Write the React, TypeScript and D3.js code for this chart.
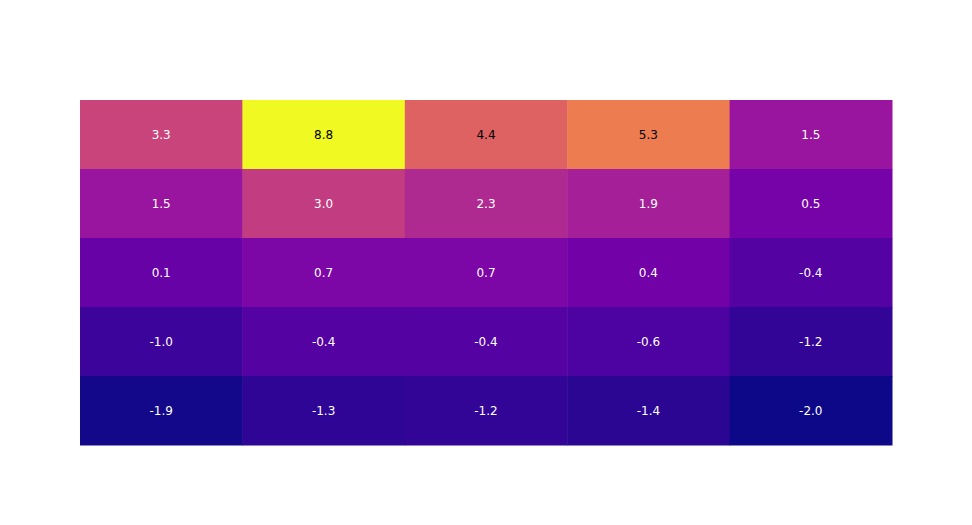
import React from "react";
import * as d3 from "d3";

const columns = ["A", "B", "C", "D", "E"];
const rows = ["r1", "r2", "r3", "r4", "r5"];
const row1 = [3.3, 8.8, 4.4, 5.3, 1.5];
const row2 = [1.5, 3.0, 2.3, 1.9, 0.5];
const row3 = [0.1, 0.7, 0.7, 0.4, -0.4];
const row4 = [-1.0, -0.4, -0.4, -0.6, -1.2];
const row5 = [-1.9, -1.3, -1.2, -1.4, -2.0];
const values = [row1, row2, row3, row4, row5];

const plasma = ["#0d0887", "#46039f", "#7201a8", "#9c179e", "#bd3786", "#d8576b", "#ed7953", "#fb9f3a", "#fdca26", "#f0f921"];

export default function App() {
  const W = 972, H = 525;
  const m = { l: 80, r: 80, t: 100, b: 80 };
  const all = values.flat();
  const zmin = d3.min(all)!, zmax = d3.max(all)!;
  const x = d3.scaleBand().domain(columns).range([m.l, W - m.r]);
  const y = d3.scaleBand().domain(rows).range([m.t, H - m.b]);
  const color = d3
    .scaleLinear<string>()
    .domain(plasma.map((_, i) => zmin + (i / (plasma.length - 1)) * (zmax - zmin)))
    .range(plasma)
    .interpolate(d3.interpolateRgb)
    .clamp(true);
  const textColor = (v: number) => {
    const c = d3.rgb(color(v));
    const b = (c.r * 299 + c.g * 587 + c.b * 114) / 1000;
    return b > 128 ? "#000000" : "#ffffff";
  };
  return (
    <svg width={W} height={H} style={{ position: "absolute", left: 0, top: 0 }}>
      <rect width={W} height={H} fill="#fff" />
      {values.map((row, ri) =>
        row.map((v, ci) => (
          <g key={`${ri}-${ci}`}>
            <rect
              x={x(columns[ci])!}
              y={y(rows[ri])!}
              width={x.bandwidth() + 0.5}
              height={y.bandwidth() + 0.5}
              fill={color(v)}
            />
            <text
              x={x(columns[ci])! + x.bandwidth() / 2}
              y={y(rows[ri])! + y.bandwidth() / 2}
              dy="0.35em"
              textAnchor="middle"
              fontFamily="DejaVu Sans, Verdana, sans-serif"
              fontSize={12}
              fill={textColor(v)}
            >
              {v.toFixed(1)}
            </text>
          </g>
        ))
      )}
    </svg>
  );
}
